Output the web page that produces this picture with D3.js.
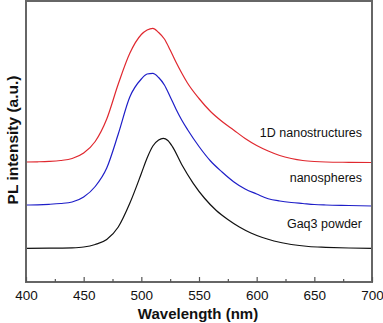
<!DOCTYPE html>
<html>
<head>
<meta charset="utf-8">
<script src="https://cdn.jsdelivr.net/npm/d3@7"></script>
<style>
  body { margin: 0; background: #fff; }
  svg { display: block; font-family: Arial, "Liberation Sans", sans-serif; }
</style>
</head>
<body>
<div id="chart"></div>
<script>
// wavelength (nm) -> PL intensity (a.u., curves stacked with offsets)
let redX = [400, 410, 420, 430, 440, 450, 460, 470, 480, 490, 500, 505, 510, 515, 520, 525, 530, 535, 540, 550, 560, 570, 580, 590, 600, 610, 620, 630, 640, 650, 660, 680, 700]
let redY = [120, 120.2, 120.6, 121.5, 123.5, 129, 140.5, 163, 198, 228.7, 247.5, 252, 253.7, 249.5, 243, 232, 220, 209, 199, 183.5, 170.5, 160.5, 152, 143.5, 136.5, 131, 126.5, 123.5, 121.5, 120.5, 120, 119.7, 119.5]

let blueX = [400, 410, 420, 430, 440, 450, 460, 470, 480, 490, 500, 505, 510, 515, 520, 525, 530, 535, 540, 550, 560, 570, 580, 590, 600, 610, 620, 630, 640, 650, 660, 680, 700]
let blueY = [77, 77.2, 77.7, 78.5, 80, 85, 95.5, 114, 148, 185, 203, 208, 208.7, 204.5, 197, 185.3, 173, 162, 152.5, 135.5, 121, 110, 100.3, 93, 88, 83.3, 81, 79.5, 78.5, 77.5, 77, 76.5, 76]

let blackX = [400, 420, 440, 450, 460, 470, 480, 490, 500, 505, 510, 515, 519, 523, 527, 535, 545, 555, 565, 575, 585, 595, 605, 615, 630, 645, 660, 680, 700]
let blackY = [33.7, 33.8, 34.2, 35, 37.5, 42.5, 55, 78.7, 108.5, 124, 136, 142, 143.7, 141.5, 135.3, 117.5, 98.7, 83.5, 71.5, 62.5, 55, 49, 44.5, 41, 37.5, 35.5, 34.7, 34, 33.7]

let labels = ['1D nanostructures', 'nanospheres', 'Gaq3 powder']
let labelY = [145, 100, 54]
let colors = ['#e0282f', '#1e1ec8', '#111111']
let xTicks = [400, 450, 500, 550, 600, 650, 700]
let xMinor = [425, 475, 525, 575, 625, 675]

let width = 383
let height = 323
let mLeft = 26, mRight = 372, mTop = 1, mBottom = 282

let xScale = d3.scaleLinear().domain([400, 700]).range([mLeft, mRight])
let yScale = d3.scaleLinear().domain([0, 281]).range([mBottom, mTop])

let svg = d3.select('#chart')
  .append('svg')
  .attr('width', width)
  .attr('height', height)

let series = [
  d3.zip(redX, redY),
  d3.zip(blueX, blueY),
  d3.zip(blackX, blackY)
]

let line = d3.line()
  .x(d => xScale(d[0]))
  .y(d => yScale(d[1]))
  .curve(d3.curveMonotoneX)

svg.selectAll('path.curve')
  .data(series)
  .enter()
  .append('path')
  .attr('class', 'curve')
  .attr('d', line)
  .attr('fill', 'none')
  .attr('stroke', (d, i) => colors[i])
  .attr('stroke-width', 1.2)

svg.selectAll('text.lbl')
  .data(labels)
  .enter()
  .append('text')
  .attr('class', 'lbl')
  .attr('x', 362)
  .attr('y', (d, i) => yScale(labelY[i]))
  .attr('text-anchor', 'end')
  .attr('font-size', 12.5)
  .attr('fill', '#111')
  .text(d => d)

// frame
svg.append('rect')
  .attr('x', mLeft)
  .attr('y', mTop)
  .attr('width', mRight - mLeft)
  .attr('height', mBottom - mTop)
  .attr('fill', 'none')
  .attr('stroke', '#666')
  .attr('stroke-width', 2)

let xAxis = svg.append('g')
  .attr('transform', 'translate(0,' + mBottom + ')')
  .call(d3.axisBottom(xScale).tickValues(xTicks).tickSizeInner(-5).tickSizeOuter(0).tickPadding(8))
xAxis.select('.domain').remove()
xAxis.selectAll('line').attr('stroke', '#555').attr('stroke-width', 1.2)
xAxis.selectAll('text').attr('font-size', 13.5).attr('fill', '#111').attr('font-family', 'Arial, "Liberation Sans", sans-serif')

let minor = svg.append('g')
  .attr('transform', 'translate(0,' + mBottom + ')')
  .call(d3.axisBottom(xScale).tickValues(xMinor).tickSizeInner(-3).tickSizeOuter(0).tickFormat(''))
minor.select('.domain').remove()
minor.selectAll('line').attr('stroke', '#555').attr('stroke-width', 1.2)

svg.append('text')
  .attr('x', 198)
  .attr('y', 319)
  .attr('text-anchor', 'middle')
  .attr('font-size', 15)
  .attr('font-weight', 'bold')
  .attr('fill', '#111')
  .text('Wavelength (nm)')

svg.append('text')
  .attr('transform', 'translate(18,140) rotate(-90)')
  .attr('text-anchor', 'middle')
  .attr('font-size', 15.5)
  .attr('font-weight', 'bold')
  .attr('fill', '#111')
  .text('PL intensity (a.u.)')
</script>
</body>
</html>
